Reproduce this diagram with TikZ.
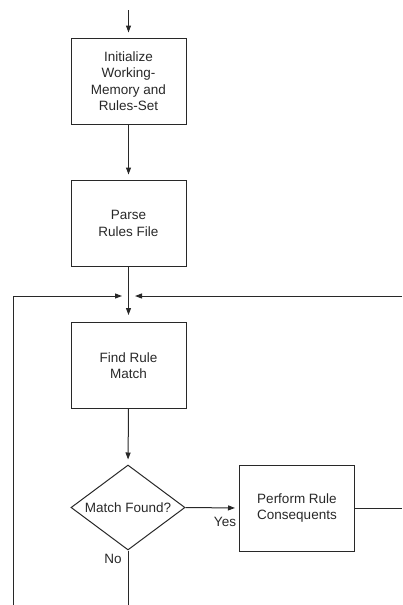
\documentclass[tikz,border=0pt]{standalone}
\usepackage{fontspec}
\setmainfont{Liberation Sans}
\usetikzlibrary{shapes.geometric,arrows.meta}
\definecolor{ink}{RGB}{40,40,40}
\tikzset{
  procbox/.style={draw=ink, line width=1pt, minimum width=115pt, minimum height=86pt, inner sep=0pt, align=center, text=ink, font=\fontsize{13.5}{16.5}\selectfont},
  decbox/.style={draw=ink, line width=1pt, shape=diamond, aspect=1.34, minimum width=114pt, minimum height=85pt, inner sep=0pt, align=center, text=ink, font=\fontsize{13.5}{16.5}\selectfont},
  conn/.style={draw=ink, line width=1pt},
  arr/.style={conn, -{Triangle[length=7pt,width=5pt]}},
  lbl/.style={text=ink, font=\fontsize{13.5}{16.5}\selectfont, inner sep=0pt}
}
\begin{document}
\begin{tikzpicture}[x=1pt,y=-1pt]
\useasboundingbox (0,0) rectangle (402,605);
\node[procbox] (init) at (128.5,81) {Initialize\\Working-\\Memory and\\Rules-Set};
\node[procbox] (parse) at (128.5,223.5) {Parse\\Rules File};
\node[procbox] (find) at (128.5,365.5) {Find Rule\\Match};
\node[decbox] (match) at (128,507.5) {Match Found?};
\node[procbox] (perform) at (297,508) {Perform Rule\\Consequents};
\coordinate (start) at (128.5,10);
\coordinate (junc) at (128.5,296);
\coordinate (lefttop) at (13,296);
\coordinate (leftbot) at (13,605);
\coordinate (righttop) at (402,296);
\coordinate (rightmid) at (402,508);
\coordinate (nobot) at (128,605);
\draw[arr, shorten >=5pt] (start) -- (init.north);
\draw[arr, shorten >=5.5pt] (init.south) -- (parse.north);
\draw[arr, shorten >=7pt] (parse.south) -- (find.north);
\draw[arr, shorten >=5pt] (find.south) -- (match.north);
\draw[arr, shorten >=4pt] (match.east) -- (perform.west);
\draw[conn] (perform.east) -- (rightmid);
\draw[conn] (match.south) -- (nobot);
\draw[arr, shorten >=6.5pt] (leftbot) -- (lefttop) -- (junc);
\draw[arr, shorten >=6.5pt] (righttop) -- (junc);
\node[lbl] (yes) at (225,522) {Yes};
\node[lbl] (no) at (113,559) {No};
\end{tikzpicture}
\end{document}
